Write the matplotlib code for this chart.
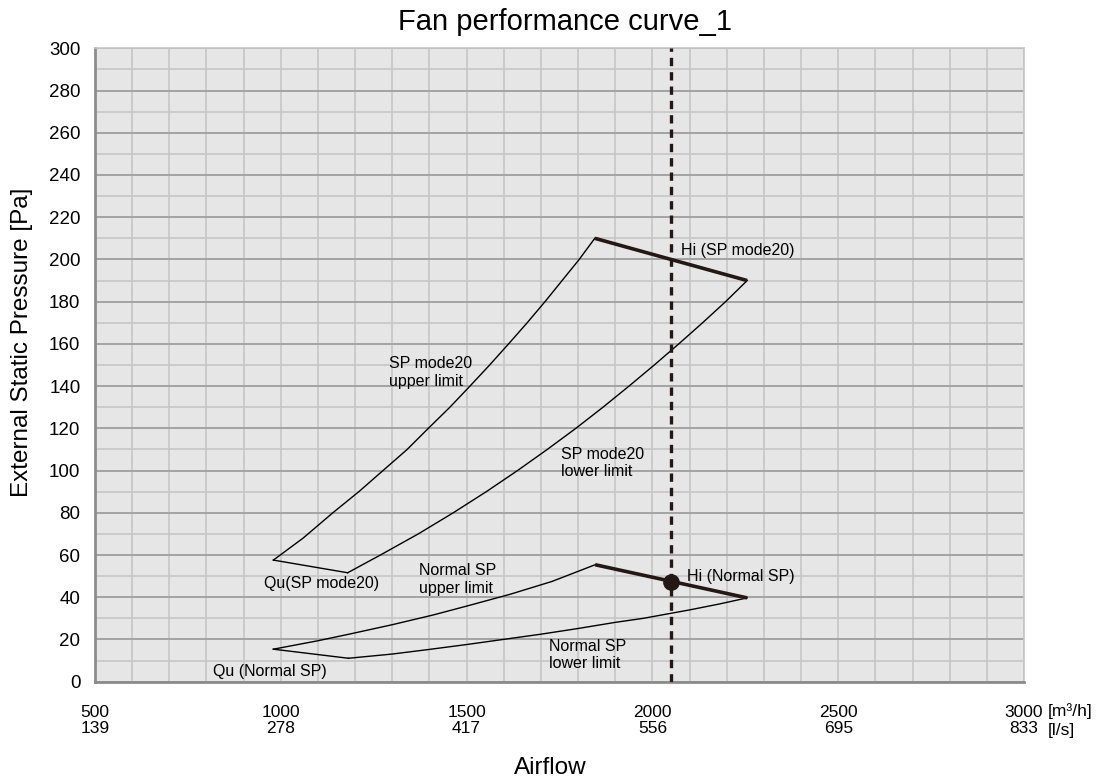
import matplotlib
matplotlib.use("Agg")
import matplotlib.pyplot as plt
from matplotlib.ticker import MultipleLocator

plt.rcParams['font.family'] = ['Liberation Sans', 'DejaVu Sans']

# ---- data ----
sp20_upper_q = [980, 1060, 1140, 1210, 1275, 1340, 1397, 1455, 1509, 1562, 1613, 1663, 1711, 1757, 1803, 1845]
sp20_upper_p = [57.6, 68, 80, 90, 100, 110, 120, 130, 140, 150, 160, 170, 180, 190, 200, 210]
sp20_lower_q = [1180, 1268, 1370, 1464, 1553, 1637, 1717, 1794, 1867, 1937, 2005, 2071, 2135, 2197, 2255]
sp20_lower_p = [51.6, 60, 70, 80, 90, 100, 110, 120, 130, 140, 150, 160, 170, 180, 190]
sp20_qu_q = [980, 1180]
sp20_qu_p = [57.6, 51.6]
sp20_hi_q = [1845, 2255]
sp20_hi_p = [210, 190]

normal_upper_q = [980, 1100, 1186, 1300, 1410, 1500, 1617, 1730, 1846]
normal_upper_p = [15.4, 19.4, 22.6, 27.0, 31.6, 35.8, 41.4, 47.5, 55.4]
normal_lower_q = [1182, 1300, 1400, 1500, 1598, 1700, 1800, 1900, 1975, 2100, 2180, 2255]
normal_lower_p = [11.1, 13.1, 15.3, 17.6, 20.0, 22.5, 25.2, 28.1, 30.0, 34.0, 36.8, 39.7]
normal_qu_q = [980, 1182]
normal_qu_p = [15.4, 11.1]
normal_hi_q = [1846, 2255]
normal_hi_p = [55.4, 39.7]

operating_q = 2050
operating_p = 47

x_ticks_cmh = [500, 1000, 1500, 2000, 2500, 3000]
x_ticks_ls = [139, 278, 417, 556, 695, 833]
y_ticks = list(range(0, 301, 20))

labels = [
    ("Hi (SP mode20)", 2076, 204),
    ("Hi (Normal SP)", 2092, 50),
    ("SP mode20\nupper limit", 1291, 146.5),
    ("SP mode20\nlower limit", 1753, 103.6),
    ("Normal SP\nupper limit", 1372, 48.4),
    ("Normal SP\nlower limit", 1722, 12.6),
    ("Qu(SP mode20)", 956, 46.3),
    ("Qu (Normal SP)", 817, 5),
]

# ---- figure ----
fig = plt.figure(figsize=(11.02, 7.83), dpi=100)
ax = fig.add_axes([95/1102, 1-681.7/783, (1024-95)/1102, (681.7-48.3)/783])
ax.set_facecolor('#e6e6e6')
ax.set_xlim(500, 3000)
ax.set_ylim(0, 300)

# grid
ax.xaxis.set_minor_locator(MultipleLocator(100))
ax.yaxis.set_minor_locator(MultipleLocator(10))
ax.set_xticks(x_ticks_cmh)
ax.set_yticks(y_ticks)
ax.grid(which='minor', axis='both', color='#c6c6c6', linewidth=1.2, zorder=0)
ax.grid(which='major', axis='x', color='#c6c6c6', linewidth=1.2, zorder=0)
ax.grid(which='major', axis='y', color='#a3a3a3', linewidth=1.4, zorder=0)
ax.set_axisbelow(True)
ax.tick_params(which='both', length=0)
ax.tick_params(axis='y', pad=10.5, labelsize=13.5)
ax.tick_params(axis='x', pad=16.5, labelsize=12.5)
ax.set_xticklabels([f"{a}\n{b}" for a, b in zip(x_ticks_cmh, x_ticks_ls)], linespacing=1.15)

for s in ['top', 'right']:
    ax.spines[s].set_color('#c6c6c6')
    ax.spines[s].set_linewidth(1.2)
for s in ['left', 'bottom']:
    ax.spines[s].set_color('#8c8c8c')
    ax.spines[s].set_linewidth(2)

thin = dict(color='black', linewidth=1.0, zorder=3)
thick = dict(color='#231815', linewidth=2.6, zorder=4, solid_capstyle='butt')
ax.plot(sp20_upper_q, sp20_upper_p, **thin)
ax.plot(sp20_lower_q, sp20_lower_p, **thin)
ax.plot(sp20_qu_q, sp20_qu_p, **thin)
ax.plot(sp20_hi_q, sp20_hi_p, **thick)
ax.plot(normal_upper_q, normal_upper_p, **thin)
ax.plot(normal_lower_q, normal_lower_p, **thin)
ax.plot(normal_qu_q, normal_qu_p, **thin)
ax.plot(normal_hi_q, normal_hi_p, **thick)

ax.axvline(operating_q, color='#231815', linewidth=2.4, linestyle=(0, (2.5, 1.8)), zorder=5)
ax.plot([operating_q], [operating_p], 'o', color='#231815', markersize=11, zorder=6)

for txt, qx, py in labels:
    ax.text(qx, py, txt, fontsize=11.5, ha='left', va='center', linespacing=1.2, zorder=7)

# unit labels
ax.text(1.0258, -0.0458, "[m³/h]", transform=ax.transAxes, fontsize=12.5, ha='left', va='center')
ax.text(1.0258, -0.0763, "[l/s]", transform=ax.transAxes, fontsize=12.5, ha='left', va='center')

ax.set_title("Fan performance curve_1", fontsize=21, pad=13, x=0.506)
ax.set_ylabel("External Static Pressure [Pa]", fontsize=17.5)
ax.yaxis.set_label_coords(-0.0667, 0.536)
ax.set_xlabel("Airflow", fontsize=17.5)
ax.xaxis.set_label_coords(0.49, -0.119)

fig.savefig("out.png", dpi=100)
